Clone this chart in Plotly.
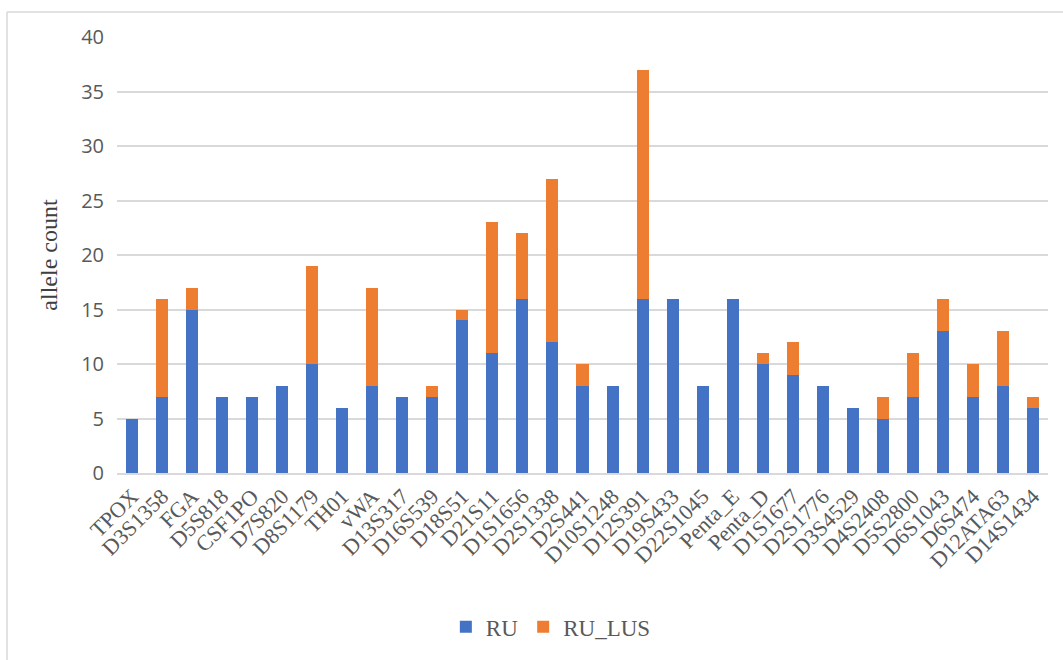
import plotly.graph_objects as go

loci = ["TPOX", "D3S1358", "FGA", "D5S818", "CSF1PO", "D7S820", "D8S1179", "TH01",
        "vWA", "D13S317", "D16S539", "D18S51", "D21S11", "D1S1656", "D2S1338",
        "D2S441", "D10S1248", "D12S391", "D19S433", "D22S1045", "Penta_E", "Penta_D",
        "D1S1677", "D2S1776", "D3S4529", "D4S2408", "D5S2800", "D6S1043", "D6S474",
        "D12ATA63", "D14S1434"]
ru = [5, 7, 15, 7, 7, 8, 10, 6, 8, 7, 7, 14, 11, 16, 12, 8, 8, 16, 16, 8, 16, 10,
      9, 8, 6, 5, 7, 13, 7, 8, 6]
ru_lus = [0, 9, 2, 0, 0, 0, 9, 0, 9, 0, 1, 1, 12, 6, 15, 2, 0, 21, 0, 0, 0, 1,
          3, 0, 0, 2, 4, 3, 3, 5, 1]

serif = "Liberation Serif, Times New Roman, serif"
sans = "Open Sans, Liberation Sans, sans-serif"

fig = go.Figure()
fig.add_trace(go.Bar(x=loci, y=ru, name="RU", marker_color="#4472C4",
                     marker_line_width=0))
fig.add_trace(go.Bar(x=loci, y=ru_lus, name="RU_LUS", marker_color="#ED7D31",
                     marker_line_width=0))

fig.update_layout(
    barmode="stack",
    bargap=0.6,
    width=1063, height=660,
    margin=dict(l=117, r=15, t=37, b=187),
    paper_bgcolor="white", plot_bgcolor="white",
    showlegend=True,
    legend=dict(orientation="h", x=0.466, xanchor="center", y=-0.353, yanchor="middle",
                font=dict(family=serif, size=23, color="#595959"),
                itemwidth=30, traceorder="normal"),
    xaxis=dict(tickangle=-45, tickfont=dict(family=serif, size=22, color="#595959"),
               showgrid=False, showline=True, linecolor="#d9d9d9", linewidth=1.5,
               ticks="", automargin=False),
    yaxis=dict(range=[0, 40], dtick=5, tickfont=dict(family=sans, size=20, color="#595959"),
               showgrid=True, gridcolor="#d9d9d9", gridwidth=1.5, zeroline=False,
               ticks="", ticklabelstandoff=12, automargin=False,
               title=dict(text="allele count", font=dict(family=serif, size=24, color="#404040"),
                          standoff=16)),
)

# frame edges around the chart area
fig.add_shape(type="line", xref="paper", yref="paper",
              x0=(7 - 117) / 931, x1=1.02, y0=(473 - 12) / 436, y1=(473 - 12) / 436,
              line=dict(color="#d9d9d9", width=1.5))
fig.add_shape(type="line", xref="paper", yref="paper",
              x0=(7 - 117) / 931, x1=(7 - 117) / 931, y0=(473 - 660) / 436, y1=(473 - 12) / 436,
              line=dict(color="#d9d9d9", width=1.5))

fig.write_html("out.html")
